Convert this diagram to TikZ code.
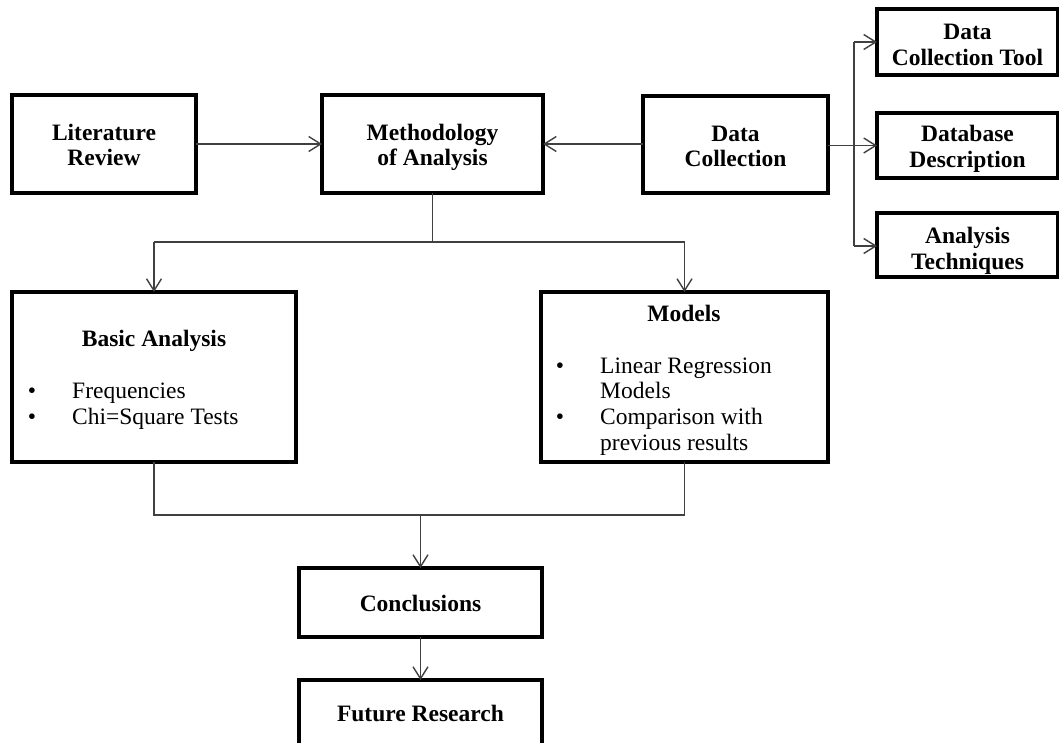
\documentclass[tikz,border=0pt]{standalone}
\usepackage{fontspec}
\setmainfont{Liberation Serif}
\usetikzlibrary{arrows.meta}
\newcommand{\tophgt}[1]{\rule{0pt}{#1pt}}
\begin{document}
\begin{tikzpicture}[x=1pt,y=-1pt,
  box/.style={draw=black,line width=3.6pt,rectangle,inner sep=0pt,outer sep=0pt,
    align=center,font=\bfseries\fontsize{23.5}{25.5}\selectfont},
  conn/.style={draw=black!75,line width=1.4pt},
  arr/.style={conn,-{Straight Barb[length=12pt,width=15pt,line width=1.4pt]}},
  lbl/.style={inner sep=0pt,anchor=base,font=\bfseries\fontsize{23.5}{25.5}\selectfont},
  itm/.style={inner sep=0pt,anchor=base west,font=\fontsize{23.5}{25.5}\selectfont},
  bul/.style={inner sep=0pt,anchor=base,font=\fontsize{23.5}{25.5}\selectfont}]
\useasboundingbox (0,0) rectangle (1059,742);
\clip (0,0) rectangle (1059,742);
% boxes
\node[box,minimum width=184pt,minimum height=98pt] (lit) at (104,144) {\tophgt{26}Literature\\Review\strut};
\node[box,minimum width=221pt,minimum height=98pt] (meth) at (432.5,144) {\tophgt{26}Methodology\\of Analysis\strut};
\node[box,minimum width=185pt,minimum height=97pt] (dc) at (735.5,144.5) {\tophgt{27}Data\\Collection\strut};
\node[box,minimum width=181pt,minimum height=66pt] (dct) at (967.5,42) {\tophgt{29}Data\\Collection Tool\strut};
\node[box,minimum width=181pt,minimum height=65pt] (dd) at (967.5,145.5) {\tophgt{26}Database\\Description\strut};
\node[box,minimum width=181pt,minimum height=64pt] (at) at (967.5,245) {\tophgt{31}Analysis\\Techniques\strut};
\node[box,minimum width=284pt,minimum height=170pt] (ba) at (154,377) {};
\node[box,minimum width=287pt,minimum height=170pt] (mo) at (684.5,377) {};
\node[box,minimum width=243pt,minimum height=69pt] (co) at (420.5,602.5) {};
\node[box,minimum width=243pt,minimum height=80pt] (fr) at (420.5,720) {};
% texts
\node[lbl] (cotext) at (420.5,611.5) {Conclusions};
\node[lbl] (frtext) at (420.5,721) {Future Research};
\node[lbl] (batitle) at (154,346.5) {Basic Analysis};
\node[bul] (bab1) at (32,398) {•};
\node[itm] (bai1) at (72,398) {Frequencies};
\node[bul] (bab2) at (32,424) {•};
\node[itm] (bai2) at (72,424) {Chi=Square Tests};
\node[lbl] (motitle) at (684,321) {Models};
\node[bul] (mob1) at (560,373) {•};
\node[itm] (moi1) at (600,373) {Linear Regression};
\node[itm] (moi2) at (600,398.5) {Models};
\node[bul] (mob2) at (560,424) {•};
\node[itm] (moi3) at (600,424) {Comparison with};
\node[itm] (moi4) at (600,450) {previous results};
% junction coordinates
\coordinate (j1) at (432.5,242);
\coordinate (j1l) at (154,242);
\coordinate (j1r) at (684.5,242);
\coordinate (j2) at (420.5,515);
\coordinate (j2l) at (154,515);
\coordinate (j2r) at (684.5,515);
\coordinate (bt) at (854,42);
\coordinate (bb) at (854,246);
% connectors
\draw[arr] (lit.east |- 0,144) -- (meth.west |- 0,144);
\draw[arr] (dc.west |- 0,144) -- (meth.east |- 0,144);
\draw[arr] (dc.east |- dd.west) -- (dd.west);
\draw[conn] (bt) -- (bb);
\draw[arr] (bt) -- (dct.west |- bt);
\draw[arr] (bb) -- (at.west |- bb);
\draw[conn] (meth.south) -- (j1);
\draw[conn] (j1l) -- (j1r);
\draw[arr] (j1l) -- (ba.north);
\draw[arr] (j1r) -- (mo.north);
\draw[conn] (ba.south) -- (j2l) -- (j2r) -- (mo.south);
\draw[arr] (j2) -- (co.north);
\draw[arr] (co.south) -- (fr.north);
\end{tikzpicture}
\end{document}
